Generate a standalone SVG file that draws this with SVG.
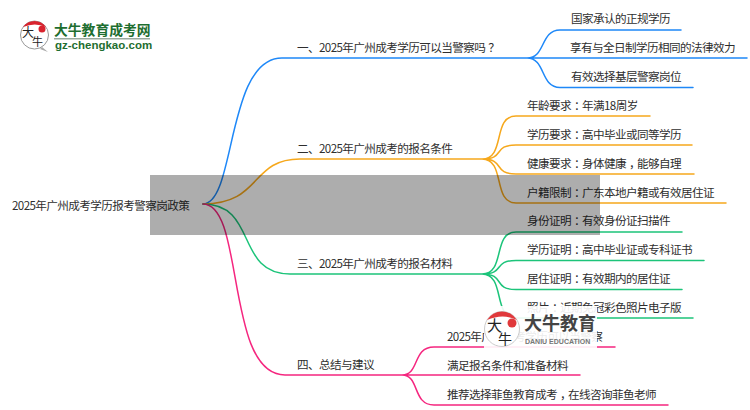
<svg xmlns="http://www.w3.org/2000/svg" width="750" height="410" viewBox="0 0 750 410">
<style>
text{font-family:"Noto Sans CJK SC","Liberation Sans",sans-serif;font-size:11.600px;letter-spacing:-.6px;fill:#2e2e2e}
.c{fill:none;stroke-width:1.5;stroke-linecap:round}
.b{stroke:#1e88f8}.o{stroke:#f6a81c}.g{stroke:#1cc47a}.p{stroke:#f5267f}
.lg{letter-spacing:0;font-weight:700}
</style>
<rect width="750" height="410" fill="#fff"/>
<g id="connectors">
<path class="c b" d="M203,204C236,204 226,58 282,58H527M527,58C546,58 540,30 560,30H681M527,58H747M527,58C546,58 540,87.500 560,87.500H693"/>
<path class="c o" d="M203,204C262,204 250,159 300,159H482M482,159C506,159 492,116 516,116H650M482,159C506,159 492,145 516,145H692M482,159C506,159 492,174 516,174H694M482,159C506,159 492,203 516,203H726"/>
<path class="c g" d="M203,204C258,204 235,274 290,274H482M482,274C506,274 492,232 516,232H682M482,274C506,274 492,260.500 516,260.500H704M482,274C506,274 492,289.500 516,289.500H682M482,274C506,274 492,318 516,318H693"/>
<path class="c p" d="M203,204C245,204 225,375 285,375H402M402,375C420,375 412,347 434,347H615M402,375H580M402,375C420,375 412,405 434,405H668"/>
</g>
<g id="root"><text x="12" y="210">2025年广州成考学历报考警察岗政策</text></g>
<g id="branch-1">
<text x="297" y="52">一、2025年广州成考学历可以当警察吗<tspan dx="3">？</tspan></text>
<text x="571" y="23">国家承认的正规学历</text>
<text x="570" y="52">享有与全日制学历相同的法律效力</text>
<text x="571" y="81">有效选择基层警察岗位</text>
</g>
<g id="branch-2">
<text x="297" y="153">二、2025年广州成考的报名条件</text>
<text x="527" y="110">年龄要求<tspan dx="3">：</tspan><tspan dx="-3">年满18周岁</tspan></text>
<text x="527" y="139">学历要求<tspan dx="3">：</tspan><tspan dx="-3">高中毕业或同等学历</tspan></text>
<text x="527" y="168">健康要求<tspan dx="3">：</tspan><tspan dx="-3">身体健康</tspan><tspan dx="3">，</tspan><tspan dx="-3">能够自理</tspan></text>
<text x="527" y="197">户籍限制<tspan dx="3">：</tspan><tspan dx="-3">广东本地户籍或有效居住证</tspan></text>
</g>
<g id="branch-3">
<text x="297" y="268">三、2025年广州成考的报名材料</text>
<text x="527" y="225">身份证明<tspan dx="3">：</tspan><tspan dx="-3">有效身份证扫描件</tspan></text>
<text x="527" y="254">学历证明<tspan dx="3">：</tspan><tspan dx="-3">高中毕业证或专科证书</tspan></text>
<text x="527" y="283">居住证明<tspan dx="3">：</tspan><tspan dx="-3">有效期内的居住证</tspan></text>
<text x="527" y="312">照片<tspan dx="3">：</tspan><tspan dx="-3">近期免冠彩色照片电子版</tspan></text>
</g>
<g id="branch-4">
<text x="297" y="369">四、总结与建议</text>
<text x="447" y="341">2025年广州成考学历可以当警察</text>
<text x="447" y="370">满足报名条件和准备材料</text>
<text x="447" y="399">推荐选择菲鱼教育成考<tspan dx="3">，</tspan><tspan dx="-3">在线咨询菲鱼老师</tspan></text>
</g>
<rect x="150" y="175" width="450" height="60" fill="#000" fill-opacity=".32"/>
<g id="logo-top">
<circle cx="34.500" cy="35" r="14" fill="#fff" stroke="#999" stroke-width="1"/>
<path d="M23,27A14,14 0 0 1 46,27Q35,22 23,27Z" fill="#d9232e"/>
<circle cx="42" cy="29" r="3.500" fill="#d9232e"/>
<path d="M42,47L48,52L40,49Z" fill="#aaa"/>
<text x="22" y="37" style="font-size:12px;letter-spacing:0;fill:#222">大</text>
<text x="32" y="46" style="font-size:11px;letter-spacing:0;fill:#222">牛</text>
<text class="lg" x="54" y="35" style="font-size:13.800px;fill:#1e6e30">大牛教育成考网</text>
<rect x="54" y="38" width="96" height="1.500" fill="#9aaa9e"/>
<text class="lg" x="55" y="49" style="font-family:'Liberation Sans',sans-serif;font-size:11.500px;fill:#1e6e30">gz-chengkao.com</text>
</g>
<g id="logo-watermark">
<rect x="484" y="306" width="113" height="44" fill="#fff" fill-opacity=".9"/>
<circle cx="502" cy="329" r="17.500" fill="#fff" stroke="#ccc" stroke-width="1"/>
<path d="M487,320A17.500,17.500 0 0 1 517,320Q503,313 487,320Z" fill="#e0393c"/>
<circle cx="512" cy="323" r="4.500" fill="#e0393c"/>
<text x="487" y="331" style="font-size:15px;letter-spacing:0;fill:#222">大</text>
<text x="498" y="344" style="font-size:14px;letter-spacing:0;fill:#222">牛</text>
<text class="lg" x="524" y="330" style="font-size:18px;fill:#444">大牛教育</text>
<text class="lg" x="525" y="344" style="font-family:'Liberation Sans',sans-serif;font-size:7px;fill:#777">DANIU EDUCATION</text>
</g>
</svg>
